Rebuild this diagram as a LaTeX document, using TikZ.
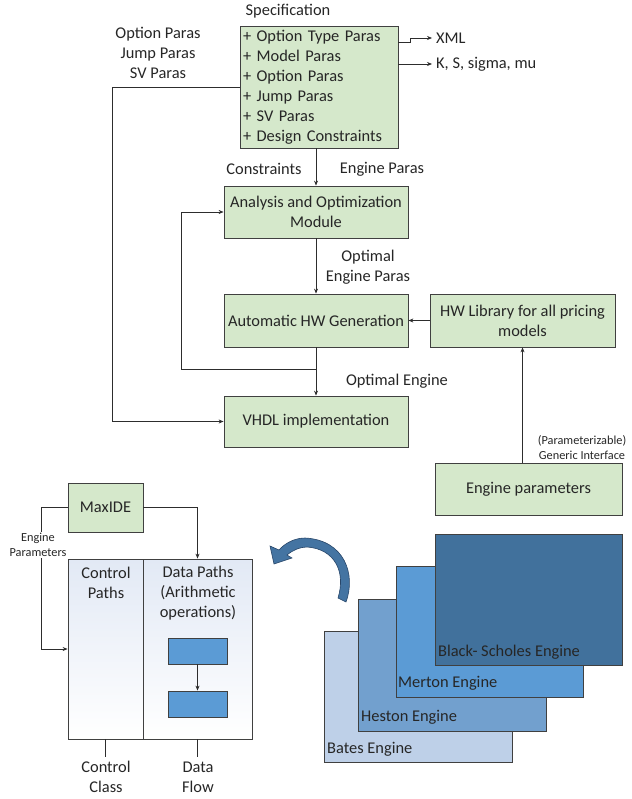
\documentclass[tikz,border=0pt]{standalone}
\usepackage{fontspec}
\setmainfont{Carlito}
\usetikzlibrary{arrows.meta,calc}
\newcommand\fsz[2]{\fontsize{#1}{#2}\selectfont}
\definecolor{gfill}{RGB}{213,232,203}
\definecolor{bord}{RGB}{64,64,64}
\definecolor{txt}{RGB}{38,38,38}
\definecolor{lnc}{RGB}{45,45,45}
\definecolor{bsc}{RGB}{65,113,156}
\definecolor{mec}{RGB}{91,155,213}
\definecolor{hec}{RGB}{114,160,206}
\definecolor{bac}{RGB}{190,208,232}
\definecolor{panel}{RGB}{226,233,245}
\definecolor{curvc}{RGB}{68,116,162}
\definecolor{curvd}{RGB}{40,70,105}
\begin{document}
\begin{tikzpicture}[x=1pt,y=-1pt,
  gbox/.style={draw=bord, fill=gfill, line width=0.8pt, text=txt, font=\fsz{16.4}{20}, align=center, inner sep=0pt},
  ebox/.style={draw=bord, line width=0.8pt, inner sep=0pt},
  arr/.style={draw=lnc, line width=0.7pt, -{Stealth[length=5pt,width=4pt]}},
  plain/.style={draw=lnc, line width=0.7pt},
  lbl/.style={text=txt, font=\fsz{16.4}{20}, align=center, inner sep=0pt},
  small/.style={text=txt, font=\fsz{12.3}{15}, align=center, inner sep=1pt}]
\useasboundingbox (0,0) rectangle (631,799);

% ---- top flow ----
\node[gbox, minimum width=158pt, minimum height=122pt, text width=152pt, inner xsep=3pt, align=left] (spec) at (319,87)
  {+ Option Type Paras\\+ Model Paras\\+ Option Paras\\+ Jump Paras\\+ SV Paras\\+ Design Constraints};
\node[lbl] (spect) at (288,11) {Specification};
\node[lbl] (opts) at (158,53) {Option Paras\\Jump Paras\\SV Paras};
\node[gbox, minimum width=184pt, minimum height=52pt] (ana) at (316,212) {Analysis and Optimization\\Module};
\node[gbox, minimum width=184pt, minimum height=53pt] (auto) at (316,320.5) {Automatic HW Generation};
\node[gbox, minimum width=185pt, minimum height=53pt] (hwlib) at (522.5,320.5) {HW Library for all pricing\\models};
\node[gbox, minimum width=184pt, minimum height=51pt] (vhdl) at (316,421.5) {VHDL implementation};
\node[gbox, minimum width=187pt, minimum height=52pt] (ep) at (528.5,489) {Engine parameters};

\node[lbl, anchor=west, inner xsep=4pt] (xml) at (432,38) {XML};
\node[lbl, anchor=west, inner xsep=4pt] (ks) at (432,64) {K, S, sigma, mu};
\coordinate (x1) at (398,42);
\coordinate (x2) at (410,42);
\coordinate (x3) at (410,38);
\coordinate (k1) at (398,64);
\draw[arr] (x1) -- (x2) -- (x3) -- (xml.west);
\draw[arr] (k1) -- (ks.west);

\node[lbl] (cons) at (264,169) {Constraints};
\node[lbl] (engp) at (382,169) {Engine Paras};
\node[lbl] (opteng) at (368,267) {Optimal\\Engine Paras};
\node[lbl] (optimal) at (397,381) {Optimal Engine};
\node[small, align=center] (gi) at (582,447.5) {(Parameterizable)\\Generic Interface};

\draw[arr] (ana.north |- spec.south) -- (ana.north);
\draw[arr] (ana) -- (auto);
\draw[arr] (hwlib) -- (auto);
\coordinate (j) at (316,369);
\coordinate (fb) at (181,369);
\draw[plain] (auto.south) -- (j);
\draw[arr] (j) -- (fb) |- (ana.west);
\draw[arr] (j) -- (vhdl.north);
\coordinate (sl) at (112,87);
\draw[arr] (spec.west) -- (sl) |- (vhdl.west);
\draw[arr] (hwlib.south |- ep.north) -- (hwlib.south);

% ---- bottom left ----
\node[gbox, minimum width=75pt, minimum height=49pt] (maxide) at (105.5,507.5) {MaxIDE};
\node[ebox, top color=panel, bottom color=white, minimum width=75pt, minimum height=180pt] (cp) at (105.5,649) {};
\node[ebox, top color=panel, bottom color=white, minimum width=109pt, minimum height=180pt] (dp) at (197.5,649) {};
\node[lbl] (cpt) at (106,583) {Control\\Paths};
\node[lbl] (dpt) at (198,593) {Data Paths\\(Arithmetic\\operations)};
\node[ebox, fill=mec, minimum width=59pt, minimum height=26pt] (b1) at (197.5,651) {};
\node[ebox, fill=mec, minimum width=59pt, minimum height=26pt] (b2) at (197.5,704) {};
\draw[arr] (b1) -- (b2);
\draw[arr] (maxide.east) -| (dp.north);
\coordinate (ml) at (41,507.5);
\draw[arr] (maxide.west) -- (ml) |- (cp.west);
\node[small, fill=white, inner sep=1pt] (engpar) at (38,545) {Engine\\Parameters};
\coordinate (cpb) at (105.5,757);
\coordinate (dpb) at (197.5,757);
\draw[plain] (cp.south) -- (cpb);
\draw[plain] (dp.south) -- (dpb);
\node[lbl] (cc) at (106,777) {Control\\Class};
\node[lbl] (df) at (198,777) {Data\\Flow};

% ---- engines ----
\node[ebox, fill=bac, minimum width=188pt, minimum height=131pt] (bates) at (418,696.5) {};
\node[ebox, fill=hec, minimum width=188pt, minimum height=132pt] (heston) at (452,665) {};
\node[ebox, fill=mec, minimum width=187pt, minimum height=131pt] (merton) at (489.5,631.5) {};
\node[ebox, fill=bsc, minimum width=187pt, minimum height=131pt] (bs) at (528.5,599.5) {};
\node[lbl, anchor=west] (batest) at (327,749) {Bates Engine};
\node[lbl, anchor=west] (hestont) at (361,717) {Heston Engine};
\node[lbl, anchor=west] (mertont) at (398,683) {Merton Engine};
\node[lbl, anchor=west] (bst) at (438,652) {Black- Scholes Engine};

% ---- curved block arrow ----
\filldraw[fill=curvc, draw=curvd, line width=0.6pt]
  (338,598) -- (346,602) .. controls (356,575) and (345,540) .. (305,538)
  .. controls (295,538) and (285,543) .. (279,550) -- (270,546) -- (274,564) -- (292,558) -- (287,555)
  .. controls (293,550) and (300,547) .. (307,547) .. controls (335,549) and (346,572) .. cycle;
\end{tikzpicture}
\end{document}
